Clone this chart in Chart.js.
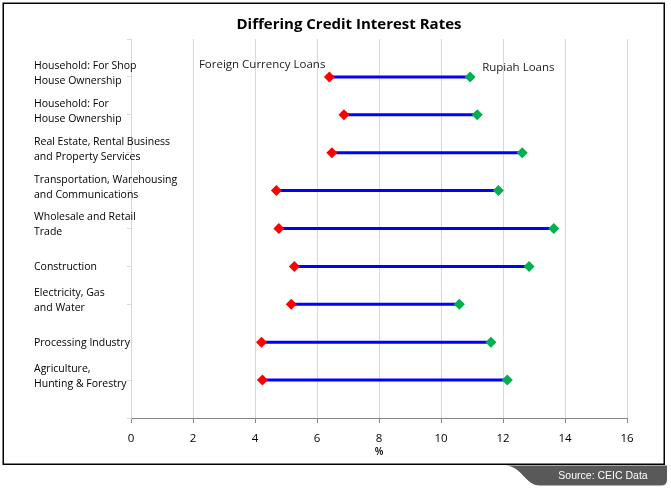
<!DOCTYPE html>
<html>
<head>
<meta charset="utf-8">
<title>Differing Credit Interest Rates</title>
<script src="https://cdn.jsdelivr.net/npm/chart.js@4.4.1/dist/chart.umd.min.js"></script>
<style>
  html, body { margin: 0; padding: 0; background: #fff; }
  canvas { display: block; }
</style>
</head>
<body>
<canvas id="myChart" width="671" height="491"></canvas>
<script>
// sectors, top to bottom
var sectors = [
  ['Household: For Shop', 'House Ownership'],
  ['Household: For', 'House Ownership'],
  ['Real Estate, Rental Business', 'and Property Services'],
  ['Transportation, Warehousing', 'and Communications'],
  ['Wholesale and Retail', 'Trade'],
  ['Construction'],
  ['Electricity, Gas', 'and Water'],
  ['Processing Industry'],
  ['Agriculture,', 'Hunting & Forestry']
];
var foreignRates = [6.40, 6.87, 6.48, 4.69, 4.77, 5.27, 5.17, 4.21, 4.24];
var rupiahRates = [10.94, 11.17, 12.62, 11.85, 13.64, 12.84, 10.59, 11.61, 12.14];
var xTicks = [0, 2, 4, 6, 8, 10, 12, 14, 16];

var FONT = "'Open Sans', 'DejaVu Sans', sans-serif";

// points for each series, row n sits at y = n (1 = top)
var foreignPts = foreignRates.map(function(v, i) { return { x: v, y: i + 1 }; });
var rupiahPts = rupiahRates.map(function(v, i) { return { x: v, y: i + 1 }; });
// connecting segments, with a gap between rows
var rangePts = [];
for (var i = 0; i < sectors.length; i++) {
  rangePts.push({ x: foreignRates[i], y: i + 1 });
  rangePts.push({ x: rupiahRates[i], y: i + 1 });
  rangePts.push({ x: null, y: null });
}

// frame, title, source tab, sector names and the two series labels
var decorations = {
  id: 'decorations',
  beforeDraw: function(chart) {
    var ctx = chart.ctx;
    ctx.save();
    ctx.fillStyle = '#fff';
    ctx.fillRect(0, 0, chart.width, chart.height);
    ctx.restore();
  },
  afterDraw: function(chart) {
    var ctx = chart.ctx;
    ctx.save();
    // border
    ctx.strokeStyle = '#000';
    ctx.lineWidth = 1.5;
    ctx.strokeRect(3.25, 3.25, 661, 461);

    // title
    ctx.fillStyle = '#000';
    ctx.font = 'bold 15px ' + FONT;
    ctx.textAlign = 'center';
    ctx.textBaseline = 'alphabetic';
    ctx.fillText('Differing Credit Interest Rates', 349, 29);

    // sector names (drawn here so long names can run over the plot, as in the original)
    var yScale = chart.scales.y;
    ctx.font = '10.5px ' + FONT;
    ctx.textAlign = 'left';
    ctx.textBaseline = 'middle';
    ctx.fillStyle = '#000';
    sectors.forEach(function(lines, i) {
      var py = yScale.getPixelForValue(i + 1);
      if (lines.length === 1) {
        ctx.fillText(lines[0], 34, py + 1);
      } else {
        ctx.fillText(lines[0], 34, py - 11);
        ctx.fillText(lines[1], 34, py + 4);
      }
    });

    // source tab
    ctx.fillStyle = '#595959';
    ctx.beginPath();
    ctx.moveTo(505, 465.5);
    ctx.lineTo(667, 465.5);
    ctx.lineTo(667, 480);
    ctx.quadraticCurveTo(667, 485.5, 661, 485.5);
    ctx.lineTo(540, 485.5);
    ctx.bezierCurveTo(525, 485.5, 522, 466, 505, 465.5);
    ctx.closePath();
    ctx.fill();
    ctx.fillStyle = '#fff';
    ctx.font = "10.5px 'Liberation Sans', Arial, sans-serif";
    ctx.textAlign = 'center';
    ctx.textBaseline = 'middle';
    ctx.fillText('Source: CEIC Data', 603, 476);

    // series labels next to the first row
    var red = chart.getDatasetMeta(1).data[0];
    var green = chart.getDatasetMeta(2).data[0];
    ctx.fillStyle = '#1a1a1a';
    ctx.font = '11.5px ' + FONT;
    ctx.textBaseline = 'alphabetic';
    ctx.textAlign = 'right';
    ctx.fillText(chart.data.datasets[1].label, red.x - 4, red.y - 9);
    ctx.textAlign = 'left';
    ctx.fillText(chart.data.datasets[2].label, green.x + 12, green.y - 6);
    ctx.restore();
  }
};

new Chart(document.getElementById('myChart'), {
  type: 'scatter',
  data: {
    datasets: [
      {
        label: 'range',
        data: rangePts,
        showLine: true,
        spanGaps: false,
        borderColor: '#0000ff',
        borderWidth: 3,
        pointRadius: 0,
        order: 2
      },
      {
        label: 'Foreign Currency Loans',
        data: foreignPts,
        pointStyle: 'rectRot',
        pointRadius: 5.5,
        backgroundColor: '#ff0000',
        borderColor: '#ff0000',
        borderWidth: 0,
        order: 1
      },
      {
        label: 'Rupiah Loans',
        data: rupiahPts,
        pointStyle: 'rectRot',
        pointRadius: 5.5,
        backgroundColor: '#00b050',
        borderColor: '#00b050',
        borderWidth: 0,
        order: 0
      }
    ]
  },
  options: {
    responsive: false,
    animation: false,
    devicePixelRatio: 1,
    layout: { padding: { left: 34, top: 39, right: 44, bottom: 33 } },
    plugins: {
      legend: { display: false },
      tooltip: { enabled: false },
      title: { display: false }
    },
    scales: {
      x: {
        type: 'linear',
        min: 0,
        max: 16,
        afterBuildTicks: function(scale) {
          scale.ticks = xTicks.map(function(v) { return { value: v }; });
        },
        afterFit: function(scale) { scale.height = 40; },
        grid: {
          color: '#d9d9d9',
          lineWidth: 1,
          tickColor: '#868686',
          tickLength: 5
        },
        border: { color: '#868686', width: 1 },
        ticks: {
          color: '#000',
          padding: 9,
          font: { family: FONT, size: 11.5 }
        },
        title: {
          display: true,
          text: '%',
          color: '#000',
          font: { family: FONT, size: 10, weight: '600' },
          padding: { top: 0, bottom: 0 }
        }
      },
      y: {
        type: 'linear',
        min: 0,
        max: 10,
        reverse: true,
        afterFit: function(scale) { scale.width = 97; },
        grid: {
          drawOnChartArea: false,
          color: '#d9d9d9',
          tickColor: '#d9d9d9',
          tickLength: 4
        },
        border: { color: '#d9d9d9', width: 1 },
        ticks: {
          stepSize: 1,
          autoSkip: false,
          // names are drawn by the decorations plugin
          callback: function() { return ''; }
        }
      }
    }
  },
  plugins: [decorations]
});
</script>
</body>
</html>
